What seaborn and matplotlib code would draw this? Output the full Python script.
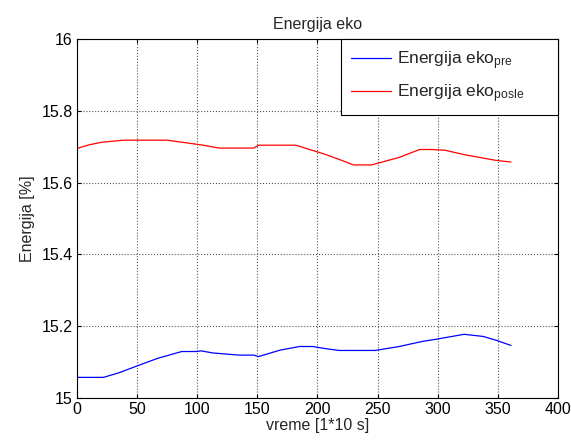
import numpy as np
import pandas as pd
import matplotlib
matplotlib.use("Agg")
import matplotlib.pyplot as plt
import seaborn as sns

# values
x_pre = [0, 22, 35, 50, 67, 87, 100, 103, 113, 135, 147, 151, 169, 185, 196,
         207, 218, 248, 268, 287, 300, 322, 338, 349, 361]
y_pre = [15.057, 15.057, 15.070, 15.089, 15.110, 15.129, 15.129, 15.131, 15.125,
         15.119, 15.119, 15.115, 15.133, 15.143, 15.143, 15.137, 15.132, 15.132,
         15.143, 15.157, 15.164, 15.177, 15.171, 15.160, 15.146]

x_posle = [0, 10, 20, 39, 75, 90, 105, 118, 147, 151, 182, 206, 220, 230, 245,
           268, 285, 295, 306, 323, 348, 361]
y_posle = [15.695, 15.705, 15.712, 15.718, 15.718, 15.711, 15.704, 15.696, 15.696,
           15.704, 15.704, 15.679, 15.662, 15.649, 15.649, 15.670, 15.692, 15.692,
           15.690, 15.677, 15.662, 15.657]

labels = [r"Energija eko$_{\mathrm{pre}}$", r"Energija eko$_{\mathrm{posle}}$"]
colors = ["#0000ff", "#ff0000"]

sns.set_style("ticks")
plt.rcParams["font.family"] = ["Liberation Sans", "DejaVu Sans"]
plt.rcParams["mathtext.fontset"] = "custom"
plt.rcParams["mathtext.rm"] = "Liberation Sans"
plt.rcParams["mathtext.it"] = "Liberation Sans"

fig = plt.figure(figsize=(5.71, 4.48), dpi=100)
ax = fig.add_axes([0.135, 0.112, 0.842, 0.801])

df_pre = pd.DataFrame({"x": x_pre, "y": y_pre})
df_posle = pd.DataFrame({"x": x_posle, "y": y_posle})
sns.lineplot(data=df_pre, x="x", y="y", ax=ax, color=colors[0], linewidth=0.9,
             label=labels[0])
sns.lineplot(data=df_posle, x="x", y="y", ax=ax, color=colors[1], linewidth=0.9,
             label=labels[1])

ax.set_xlim(0, 400)
ax.set_ylim(15, 16)
ax.set_xticks(np.arange(0, 401, 50))
ax.set_yticks([15, 15.2, 15.4, 15.6, 15.8, 16])
ax.set_yticklabels(["15", "15.2", "15.4", "15.6", "15.8", "16"])
ax.grid(True, color="#555555", linestyle=":", linewidth=0.8)
ax.tick_params(direction="in", top=True, right=True, labelsize=11.5, length=3,
               width=0.8, colors="black", pad=3)
for s in ax.spines.values():
    s.set_linewidth(0.8)
    s.set_color("black")

ax.set_title("Energija eko", fontsize=11.5, pad=7)
ax.set_xlabel("vreme [1*10 s]", fontsize=11.5, labelpad=1)
ax.set_ylabel("Energija [%]", fontsize=11.5, labelpad=5)

leg = ax.legend(loc="upper right", bbox_to_anchor=(0.549, 0.0, 0.451, 1.0),
                mode="expand", fontsize=12.5, fancybox=False, framealpha=1,
                edgecolor="black", borderaxespad=0, handlelength=2.3,
                handletextpad=0.35, labelspacing=0.6, borderpad=0.6)
leg.get_frame().set_linewidth(0.8)

fig.savefig("out.png", dpi=100)
